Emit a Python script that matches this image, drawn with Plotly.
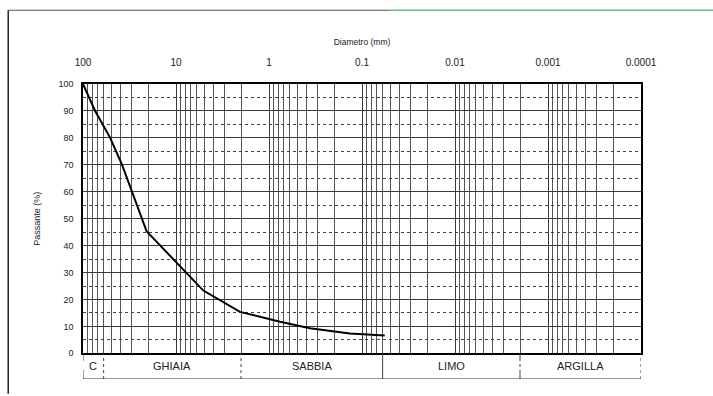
import math
import plotly.graph_objects as go

# Data
diameter_mm = [100, 74, 51, 38, 29.7, 23, 20.7, 5.08, 2.05, 0.76, 0.363, 0.135, 0.057]
passing_pct = [100, 90, 80, 70, 60, 50, 45.3, 23.3, 15.4, 11.7, 9.3, 7.4, 6.6]

x_tick_vals = [100, 10, 1, 0.1, 0.01, 0.001, 0.0001]
x_tick_text = ["100", "10", "1", "0.1", "0.01", "0.001", "0.0001"]
y_tick_vals = [0, 10, 20, 30, 40, 50, 60, 70, 80, 90, 100]

zone_names = ["C", "GHIAIA", "SABBIA", "LIMO", "ARGILLA"]
zone_bounds = [100, 60, 2, 0.06, 0.002, 0.0001]
zone_dash = ["dash", "dot", "dot", "solid", "dashdot", "dot"]

minor_vals = [m * 10 ** k for k in range(-4, 2) for m in range(2, 10)]

FONT = "Liberation Sans, Arial, sans-serif"
GRID = "#3a3a3a"

fig = go.Figure()
fig.add_trace(go.Scatter(x=diameter_mm, y=passing_pct, mode="lines",
                         line=dict(color="black", width=2), xaxis="x", yaxis="y",
                         showlegend=False, hoverinfo="x+y"))

# invisible trace for the classification strip axes
fig.add_trace(go.Scatter(x=[zone_bounds[0], zone_bounds[-1]], y=[0, 1], mode="markers",
                         marker=dict(opacity=0), xaxis="x2", yaxis="y2", showlegend=False,
                         hoverinfo="skip"))

fig.update_layout(
    width=713, height=396,
    margin=dict(l=83, r=72, t=84, b=13),
    paper_bgcolor="white", plot_bgcolor="white",
    font=dict(family=FONT, size=10, color="#222"),
    xaxis=dict(type="log", range=[2, -4], side="top",
               tickvals=x_tick_vals, ticktext=x_tick_text, ticks="",
               tickfont=dict(size=10), ticklabelstandoff=12,
               title=dict(text="Diametro (mm)", font=dict(size=8.5), standoff=10),
               showgrid=True, gridcolor=GRID, gridwidth=1.2,
               minor=dict(tickvals=minor_vals, showgrid=True, gridcolor="#555", gridwidth=1, griddash="solid"),
               showline=True, linecolor="black", linewidth=1.5, mirror=True,
               anchor="y", zeroline=False),
    yaxis=dict(range=[0, 100], domain=[0.087, 1], tickvals=y_tick_vals, ticks="",
               tickfont=dict(size=9), ticklabelstandoff=6,
               title=dict(text="Passante (%)", font=dict(size=9), standoff=16),
               showgrid=True, gridcolor=GRID, gridwidth=1.2,
               minor=dict(dtick=5, showgrid=True, gridcolor="#444", gridwidth=1, griddash="dot"),
               showline=True, linecolor="black", linewidth=1.5, mirror=True, zeroline=False),
    xaxis2=dict(type="log", range=[2, -4], matches="x", anchor="y2", visible=False),
    yaxis2=dict(range=[0, 1], domain=[0, 0.087], visible=False),
)

shapes = []
# strip bottom line
shapes.append(dict(type="line", xref="x2", yref="y2", x0=zone_bounds[0], x1=zone_bounds[-1],
                   y0=0, y1=0, line=dict(color="#333", width=1.2)))
for b, d in zip(zone_bounds, zone_dash):
    shapes.append(dict(type="line", xref="x2", yref="y2", x0=b, x1=b, y0=0, y1=1,
                       line=dict(color="#444", width=1, dash=d)))
# outer frame of the scanned page
shapes.append(dict(type="line", xref="paper", yref="paper", x0=-0.134, x1=-0.134, y0=-0.05, y1=1.25,
                   line=dict(color="#222", width=1.5)))
shapes.append(dict(type="line", xref="paper", yref="paper", x0=-0.134, x1=0.55, y0=1.25, y1=1.25,
                   line=dict(color="#555", width=1.2)))
shapes.append(dict(type="line", xref="paper", yref="paper", x0=0.55, x1=1.13, y0=1.25, y1=1.25,
                   line=dict(color="#6bbf7a", width=1.5)))
fig.update_layout(shapes=shapes)

for i, name in enumerate(zone_names):
    xm = math.sqrt(zone_bounds[i] * zone_bounds[i + 1])
    fig.add_annotation(x=math.log10(xm), y=0.5, xref="x2", yref="y2", text=name,
                       showarrow=False, font=dict(size=11, color="#222", family=FONT))

fig.write_html("out.html")
